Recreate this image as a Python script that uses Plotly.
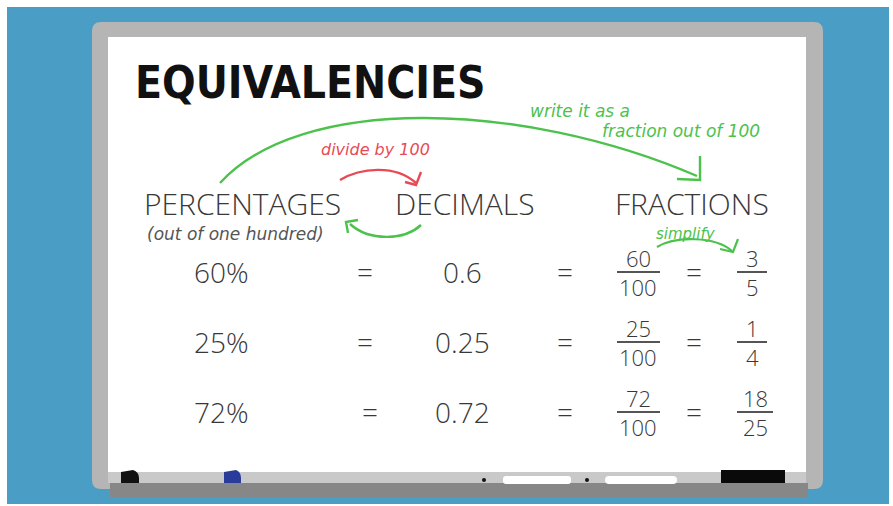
import plotly.graph_objects as go

# ---- data ----
headers = ["PERCENTAGES", "DECIMALS", "FRACTIONS"]
percentages = ["60%", "25%", "72%"]
decimals = ["0.6", "0.25", "0.72"]
fraction_num = ["60", "25", "72"]
fraction_den = ["100", "100", "100"]
simple_num = ["3", "1", "18"]
simple_den = ["5", "4", "25"]

W, H = 893, 506
GREEN = "#4cc24c"
RED = "#e84a55"
INK = "#383838"
GREY_TXT = "#555555"

fig = go.Figure()
fig.add_trace(go.Scatter(x=[0, W], y=[0, H], mode="markers",
                         marker=dict(opacity=0), hoverinfo="skip", showlegend=False))

def rrect(x0, y0, x1, y1, r):
    return (f"M {x0+r} {y0} L {x1-r} {y0} Q {x1} {y0} {x1} {y0+r} "
            f"L {x1} {y1-r} Q {x1} {y1} {x1-r} {y1} L {x0+r} {y1} "
            f"Q {x0} {y1} {x0} {y1-r} L {x0} {y0+r} Q {x0} {y0} {x0+r} {y0} Z")

shapes = []
def rect(x0, y0, x1, y1, color):
    shapes.append(dict(type="rect", xref="x", yref="y", x0=x0, y0=y0, x1=x1, y1=y1,
                       fillcolor=color, line=dict(width=0), layer="below"))
def path(d, color, width=2.2, fill=None):
    shapes.append(dict(type="path", xref="x", yref="y", path=d,
                       line=dict(color=color, width=width),
                       fillcolor=fill if fill else "rgba(0,0,0,0)", layer="above"))

# background & board
rect(7, 7, 889, 504, "#4a9ec6")
shapes.append(dict(type="path", xref="x", yref="y", path=rrect(92, 22, 823, 489, 9),
                   fillcolor="#b5b5b5", line=dict(width=0), layer="below"))
rect(108, 37, 806, 472, "#ffffff")
rect(108, 472, 806, 483, "#c9c9c9")
rect(110, 483, 808, 497, "#878787")
# tray items
shapes.append(dict(type="path", xref="x", yref="y",
                   path="M 121 483 L 121 472 L 133 470 Q 139 472 139 478 L 139 483 Z",
                   fillcolor="#111111", line=dict(width=0), layer="below"))
shapes.append(dict(type="path", xref="x", yref="y",
                   path="M 224 483 L 224 472 L 236 470 Q 241 472 241 478 L 241 483 Z",
                   fillcolor="#2a3c9a", line=dict(width=0), layer="below"))
rect(721, 470, 785, 483, "#0a0a0a")
shapes.append(dict(type="path", xref="x", yref="y", path=rrect(503, 476, 571, 484, 3),
                   fillcolor="#ffffff", line=dict(width=0), layer="below"))
shapes.append(dict(type="path", xref="x", yref="y", path=rrect(605, 476, 677, 484, 4),
                   fillcolor="#ffffff", line=dict(width=0), layer="below"))
shapes.append(dict(type="circle", xref="x", yref="y", x0=482, y0=478, x1=486, y1=482,
                   fillcolor="#111111", line=dict(width=0), layer="below"))
shapes.append(dict(type="circle", xref="x", yref="y", x0=585, y0=478, x1=589, y1=482,
                   fillcolor="#111111", line=dict(width=0), layer="below"))

# arrows
path("M 220 183 C 300 95, 520 100, 697 176", GREEN, 2.4)
path("M 700 156 L 700 180 L 677 179", GREEN, 2.4)
path("M 340 180 C 360 168, 395 164, 416 183", RED, 2.4)
path("M 421 172 L 416 185 L 405 182", RED, 2.4)
path("M 421 225 C 405 240, 370 242, 350 224", GREEN, 2.4)
path("M 358 220 L 346 222 L 348 233", GREEN, 2.4)
path("M 657 247 C 675 236, 715 236, 732 251", GREEN, 2.2)
path("M 738 239 L 733 252 L 720 249", GREEN, 2.2)

ann = []
def text(x, y, s, size, color, family="Open Sans", weight=300, italic=False, xanchor="center"):
    ann.append(dict(x=x, y=y, xref="x", yref="y", text=s, showarrow=False,
                    xanchor=xanchor, yanchor="middle",
                    font=dict(family=family, size=size, color=color, weight=weight,
                              style="italic" if italic else "normal")))

HAND = "DejaVu Sans"
text(133, 82, "EQUIVALENCIES", 44, "#111111",
     family="DejaVu Sans Condensed, DejaVu Sans", weight=900, xanchor="left")
text(528, 111, "write it as a", 17, GREEN, family=HAND, weight=400, italic=True, xanchor="left")
text(600, 131, "fraction out of 100", 17, GREEN, family=HAND, weight=400, italic=True, xanchor="left")
text(319, 149, "divide by 100", 16, RED, family=HAND, weight=400, italic=True, xanchor="left")
text(145, 234, "(out of one hundred)", 17, GREY_TXT, family=HAND, weight=400, italic=True, xanchor="left")
text(654, 234, "simplify", 15, GREEN, family=HAND, weight=400, italic=True, xanchor="left")

header_x = [242, 465, 692]
for hx, h in zip(header_x, headers):
    text(hx, 203, h, 30, INK)

row_y0, row_step = 272, 70
eq1_x = [365, 365, 370]
simp_x = [752, 752, 755]
for i in range(3):
    y = row_y0 + i * row_step
    text(221, y, percentages[i], 28, INK)
    text(eq1_x[i], y, "=", 28, INK)
    text(462, y, decimals[i], 28, INK)
    text(565, y, "=", 28, INK)
    text(638, y - 14, fraction_num[i], 22, INK)
    text(638, y + 15, fraction_den[i], 22, INK)
    shapes.append(dict(type="line", xref="x", yref="y", x0=617, x1=660, y0=y, y1=y,
                       line=dict(color="#555555", width=2)))
    text(694, y, "=", 28, INK)
    text(simp_x[i], y - 14, simple_num[i], 22, INK)
    text(simp_x[i], y + 15, simple_den[i], 22, INK)
    hw = 15 if len(simple_num[i]) == 1 else 18
    shapes.append(dict(type="line", xref="x", yref="y", x0=simp_x[i] - hw, x1=simp_x[i] + hw,
                       y0=y, y1=y, line=dict(color="#555555", width=2)))

fig.update_layout(
    width=W, height=H, margin=dict(l=0, r=0, t=0, b=0),
    paper_bgcolor="#ffffff", plot_bgcolor="rgba(0,0,0,0)",
    xaxis=dict(range=[0, W], visible=False, fixedrange=True),
    yaxis=dict(range=[H, 0], visible=False, fixedrange=True),
    shapes=shapes, annotations=ann, showlegend=False,
)
fig.write_html("out.html", config={"displayModeBar": False},
               post_script="document.body.style.margin='0';document.body.style.overflow='hidden';")
